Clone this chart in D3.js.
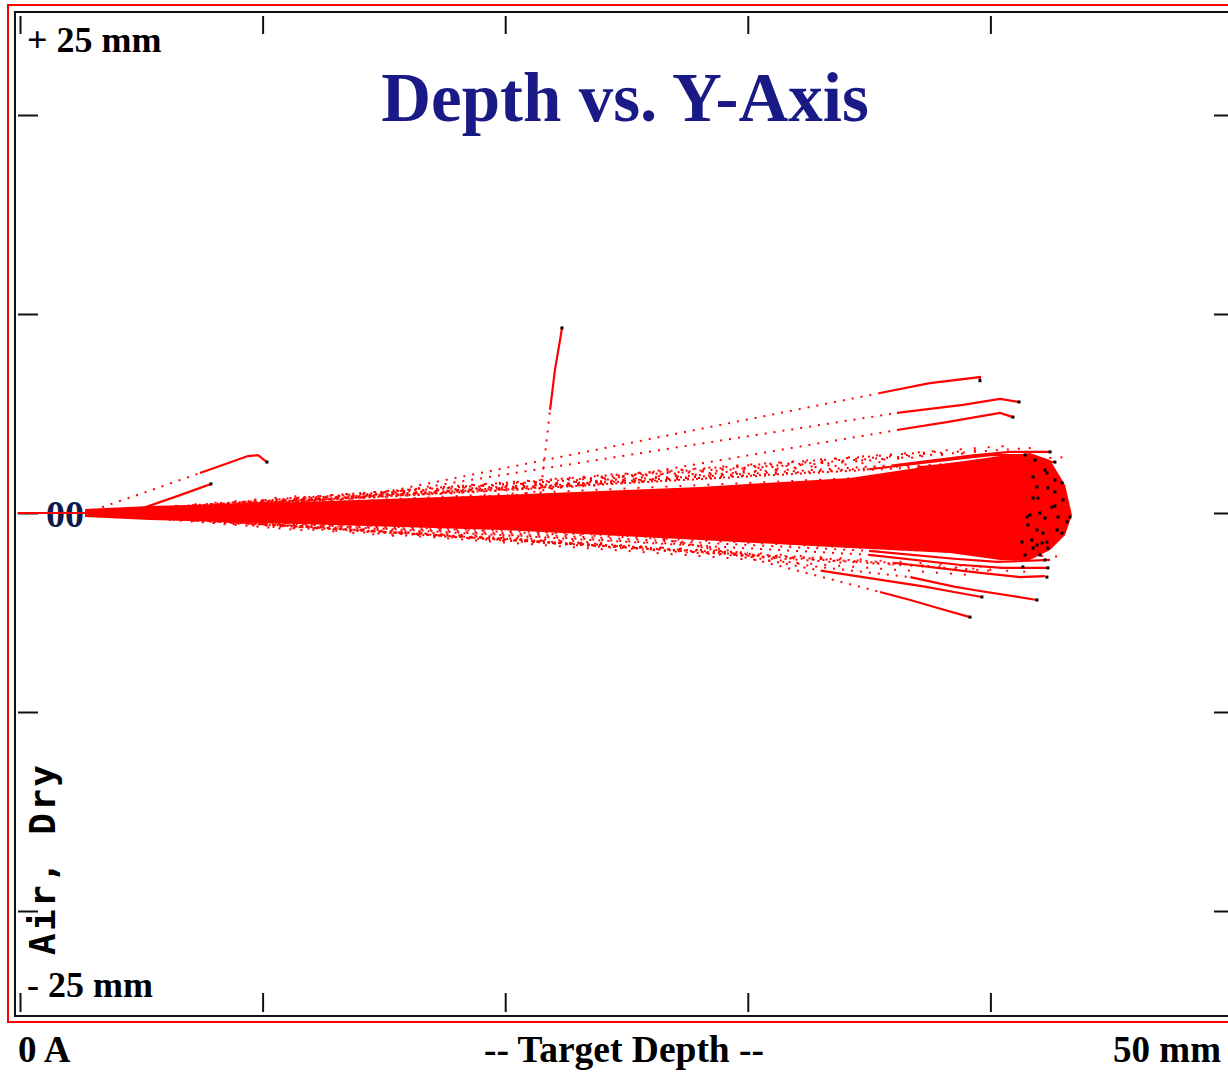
<!DOCTYPE html>
<html>
<head>
<meta charset="utf-8">
<script src="https://cdn.jsdelivr.net/npm/d3@7"></script>
<style>
  body { margin: 0; background: #fff; }
  svg { display: block; }
  .lbl { font-family: "Liberation Serif", "Times New Roman", serif; font-weight: bold; }
</style>
</head>
<body>
<svg id="chart" width="1228" height="1073"></svg>
<script>
// axis ticks (mm)
const xTicks = [0, 10, 20, 30, 40];
const yTicks = [20, 10, 0, -10, -20];

// labels
const title = "Depth vs. Y-Axis";
const yTopLabel = "+ 25 mm";
const yBottomLabel = "- 25 mm";
const xLeftLabel = "0 A";
const xMidLabel = "-- Target Depth --";
const xRightLabel = "50 mm";
const targetLabel = "Air, Dry";
const originLabel = "00";

// incoming beam line (depth mm, y mm)
const beamLine = [[-0.1, 0], [2.7, 0]];

// dense part of the ion cloud : envelope
const coreDepth = [2.68, 5.36, 11.54, 19.79, 28.03, 34.21, 38.33, 40.40, 41.63, 42.46, 43.08, 43.36];
const coreUpper = [0.20, 0.35, 0.55, 0.90, 1.31, 1.76, 2.51, 2.86, 3.02, 2.66, 1.41, -0.10];
const coreLower = [-0.20, -0.35, -0.55, -0.85, -1.36, -1.76, -2.01, -2.36, -2.36, -1.86, -1.11, -0.10];

// scattered trajectories at the rim of the cloud (end points, mm)
const fringeEnds = [
  [42, 3.3], [41, 3.4], [40, 3.2], [39, 3.0], [38, 3.1], [37, 2.8], [36, 2.6], [34, 2.4],
  [32, 2.2], [30, 2.0], [28, 1.8], [26, 1.6], [24, 1.4], [20, 1.3], [16, 1.0], [12, 0.9],
  [43, 2.8], [42.5, 2.2],
  [42, -3.0], [41, -2.8], [40, -2.9], [39, -3.1], [38, -2.7], [36, -2.6], [34, -2.5],
  [32, -2.3], [30, -2.0], [28, -1.9], [26, -1.8], [24, -1.5], [20, -1.4], [16, -1.2],
  [12, -0.9], [43, -2.2], [42.5, -1.6]
];

// single ion tracks that leave the cloud (mm)
const tracks = [
  [[2.68, 0], [4.95, 0.95], [7.42, 2.01], [9.40, 2.86], [9.81, 2.91], [10.18, 2.56]],
  [[3.9, 0], [4.95, 0.2], [6.6, 0.9], [7.4, 1.25], [7.87, 1.46]],
  [[21.43, 0.65], [21.6, 2.5], [21.85, 5.18], [22.05, 7.19], [22.26, 8.69], [22.34, 9.30]],
  [[2.68, 0], [13.4, 0.65], [27.2, 4.02], [35.45, 6.03], [37.5, 6.53], [39.57, 6.83], [39.57, 6.65]],
  [[2.68, 0], [14.1, 0.8], [27.2, 3.32], [36.15, 5.03], [38.87, 5.43], [40.4, 5.73], [41.18, 5.58]],
  [[2.68, 0], [20.4, 0.9], [27.2, 2.31], [36.15, 4.17], [38.2, 4.57], [40.4, 5.03], [40.93, 4.82]],
  [[2.68, 0], [25.1, -0.85], [30.5, -2.41], [35.45, -3.97], [36.7, -4.37], [37.9, -4.8], [39.16, -5.23]],
  [[2.68, 0], [28.0, -1.61], [32.56, -2.66], [36.7, -3.22], [38.5, -3.7], [39.57, -3.92], [41.92, -4.37]],
  [[2.68, 0], [26.0, -1.2], [33.0, -2.9], [37.3, -3.7], [38.5, -3.97], [39.65, -4.22]],
  [[2.68, 0], [35, 2.2], [38.5, 2.7], [40.0, 2.91], [41.43, 2.91]],
  [[2.68, 0], [36, 2.4], [39.3, 2.9], [40.8, 3.07], [42.46, 3.07]],
  [[2.68, 0], [37, 2.3], [40.5, 2.7], [41.5, 2.66], [42.66, 2.56]],
  [[2.68, 0], [35, -1.9], [38.5, -2.3], [40.27, -2.46], [42.46, -2.36]],
  [[2.68, 0], [35, -2.1], [38.7, -2.6], [40.5, -2.76], [42.37, -2.76]],
  [[2.68, 0], [36, -2.5], [39.5, -3.0], [41.2, -3.22], [42.25, -3.17]]
];

// stopped ions (mm)
const stoppedIons = [
  [41.43, 2.91], [41.84, 2.66], [42.25, 2.16], [42.33, 2.01], [42.66, 1.66], [42.95, 1.51],
  [41.76, 1.81], [41.92, 1.31], [42.37, 1.26], [42.66, 1.06], [42.99, 0.65], [41.76, 0.75],
  [41.96, 0.75], [42.54, 0.30], [42.66, 0.35], [41.51, -0.20], [41.63, -0.10], [42.04, 0],
  [42.25, -0.25], [42.79, -0.20], [43.16, -0.45], [43.28, -0.20], [41.55, -0.60], [41.92, -0.85],
  [42.17, -1.01], [42.75, -0.85], [42.95, -1.01], [41.30, -1.46], [41.71, -1.36], [41.92, -1.61],
  [42.13, -1.51], [42.33, -1.46], [41.76, -1.76], [42.37, -1.76], [41.43, -2.11], [42.04, -2.11],
  [41.34, -2.71], [42.33, -3.22], [42.25, -2.36], [42.37, -2.76], [42.46, 3.07], [42.66, 2.56],
  [39.65, -4.22], [41.92, -4.37], [39.16, -5.23], [39.57, 6.65], [41.18, 5.58], [40.93, 4.82],
  [22.34, 9.30], [10.18, 2.56], [7.87, 1.46]
];

const svg = d3.select('#chart');
svg.append('rect').attr('width', 1228).attr('height', 1073).attr('fill', '#fff');

const x = d3.scaleLinear().domain([0, 50]).range([20, 1233]);
const y = d3.scaleLinear().domain([-25, 25]).range([1010.5, 15.5]);

// frames
svg.append('rect').attr('x', 8).attr('y', 5).attr('width', 1240).attr('height', 1017)
  .attr('fill', 'none').attr('stroke', '#ff0000').attr('stroke-width', 2);
svg.append('rect').attr('x', 15).attr('y', 12).attr('width', 1230).attr('height', 1004)
  .attr('fill', 'none').attr('stroke', '#111').attr('stroke-width', 2);

// tick marks
function ticks(axis, tx, ty) {
  const g = svg.append('g').attr('transform', `translate(${tx},${ty})`).call(axis);
  g.select('.domain').remove();
  g.selectAll('.tick line').attr('stroke', '#111').attr('stroke-width', 2);
  g.selectAll('.tick text').remove();
}
ticks(d3.axisBottom(x).tickValues(xTicks).tickSize(18), 0, 16);
ticks(d3.axisTop(x).tickValues(xTicks).tickSize(19), 0, 1012);
ticks(d3.axisRight(y).tickValues(yTicks).tickSize(20), 18, 0);
ticks(d3.axisLeft(y).tickValues(yTicks).tickSize(14), 1228, 0);

const plot = svg.append('g');
const line = d3.line().x(d => x(d[0])).y(d => y(d[1]));

// fringe trajectories (sparse collisions)
plot.selectAll('path.fringe')
  .data(fringeEnds)
  .enter().append('path')
  .attr('class', 'fringe')
  .attr('d', d => line([[2.68, 0], d]))
  .attr('fill', 'none')
  .attr('stroke', '#ff0000')
  .attr('stroke-width', 2)
  .attr('stroke-dasharray', (d, i) => `2,${9 + (i % 4) * 3}`)
  .attr('stroke-dashoffset', (d, i) => (i * 5) % 13);

// dense cloud
const area = d3.area()
  .x((d, i) => x(coreDepth[i]))
  .y0((d, i) => y(coreLower[i]))
  .y1((d, i) => y(coreUpper[i]));
plot.append('path')
  .attr('d', area(coreDepth))
  .attr('fill', '#ff0000');

// single tracks: fast part dotted, the last 3 steps solid
const SOLID_SEGS = 3;
tracks.forEach((t, i) => {
  const cut = Math.max(0, t.length - 1 - SOLID_SEGS);
  if (cut > 0) {
    plot.append('path')
      .attr('d', line(t.slice(0, cut + 1)))
      .attr('fill', 'none').attr('stroke', '#ff0000').attr('stroke-width', 2)
      .attr('stroke-dasharray', '2,7').attr('stroke-dashoffset', i * 2);
  }
  plot.append('path')
    .attr('d', line(t.slice(cut)))
    .attr('fill', 'none').attr('stroke', '#ff0000').attr('stroke-width', 2.2);
});

// beam entry line
plot.append('path').attr('d', line(beamLine))
  .attr('stroke', '#ff0000').attr('stroke-width', 2).attr('fill', 'none');

// stopped ions
plot.selectAll('rect.stop')
  .data(stoppedIons)
  .enter().append('rect')
  .attr('class', 'stop')
  .attr('x', d => x(d[0]) - 1.5)
  .attr('y', d => y(d[1]) - 1.5)
  .attr('width', 3).attr('height', 3)
  .attr('fill', '#000');

// texts
svg.append('text').attr('class', 'lbl').attr('x', 625).attr('y', 121)
  .attr('text-anchor', 'middle').attr('font-size', 69).attr('fill', '#1a1a86').text(title);
svg.append('text').attr('class', 'lbl').attr('x', 27).attr('y', 52)
  .attr('font-size', 36).attr('fill', '#000').text(yTopLabel);
svg.append('text').attr('class', 'lbl').attr('x', 27).attr('y', 997)
  .attr('font-size', 36).attr('fill', '#000').text(yBottomLabel);
svg.append('text').attr('class', 'lbl').attr('x', 18).attr('y', 1062)
  .attr('font-size', 37).attr('fill', '#000').text(xLeftLabel);
svg.append('text').attr('class', 'lbl').attr('x', 624).attr('y', 1062)
  .attr('text-anchor', 'middle').attr('font-size', 37.5).attr('fill', '#000').text(xMidLabel);
svg.append('text').attr('class', 'lbl').attr('x', 1221).attr('y', 1062)
  .attr('text-anchor', 'end').attr('font-size', 37).attr('fill', '#000').text(xRightLabel);
svg.append('text').attr('class', 'lbl').attr('x', 65).attr('y', 527)
  .attr('text-anchor', 'middle').attr('font-size', 38).attr('font-weight', 'normal')
  .attr('fill', '#0d1a4d').text(originLabel);
// beam line crosses the origin label
svg.append('line').attr('x1', 18).attr('x2', x(beamLine[1][0])).attr('y1', y(0)).attr('y2', y(0))
  .attr('stroke', '#ff0000').attr('stroke-width', 2);

svg.append('text')
  .attr('transform', 'translate(55,955) rotate(-90)')
  .attr('font-family', '"DejaVu Sans Mono", monospace')
  .attr('font-weight', 'bold')
  .attr('font-size', 36)
  .attr('textLength', 190)
  .attr('lengthAdjust', 'spacing')
  .attr('fill', '#000')
  .text(targetLabel);
</script>
</body>
</html>
